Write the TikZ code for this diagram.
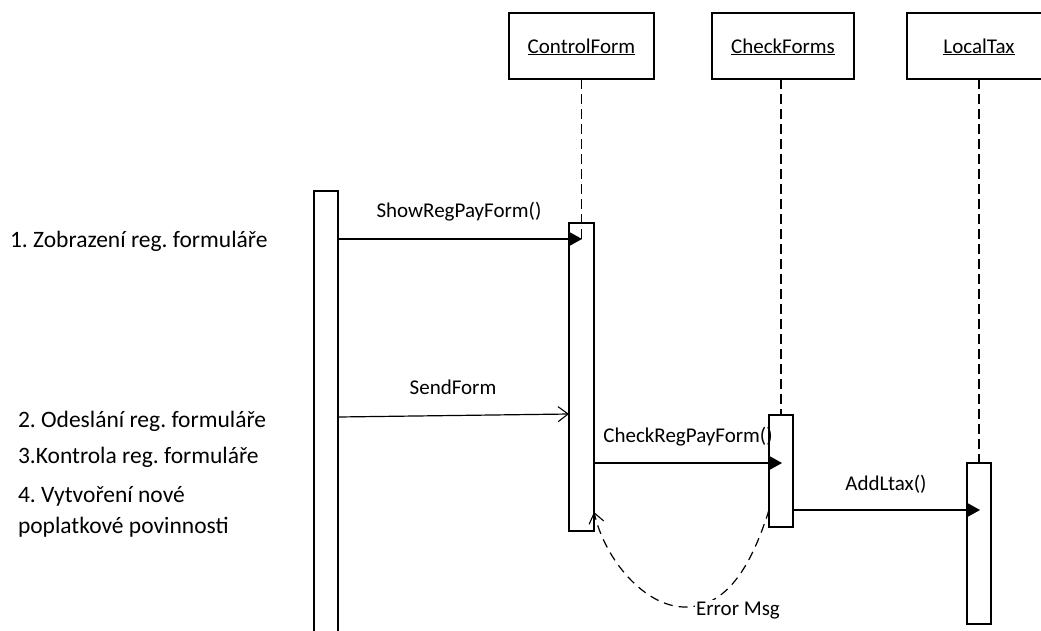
\documentclass[tikz,border=0pt]{standalone}
\usepackage{fontspec}
\setmainfont{Carlito}
\usetikzlibrary{arrows.meta}
\frenchspacing
\begin{document}
\begin{tikzpicture}[x=1pt,y=-1pt,
  line width=1.2pt,
  every node/.style={inner sep=0pt,outer sep=0pt},
  objbox/.style={draw,minimum height=66pt,font=\fontsize{21}{25}\selectfont},
  bar/.style={draw,minimum width=24pt},
  lifeline/.style={dash pattern=on 10pt off 5pt},
  msglbl/.style={anchor=base,font=\fontsize{21}{25}\selectfont},
  steplbl/.style={anchor=base west,align=left,font=\fontsize{23.5}{31}\selectfont},
  sync/.style={-{Triangle[length=12pt,width=13pt]}},
  async/.style={-{Straight Barb[length=10pt,width=15pt,line width=1.1pt]}},
  reply/.style={dash pattern=on 9pt off 6pt,-{Straight Barb[length=10pt,width=15pt,line width=1.1pt]}}]
\useasboundingbox (0,0) rectangle (1041,630);

% object heads
\node[objbox,minimum width=145pt] (cf) at (581.5,46) {};
\node[objbox,minimum width=142pt] (ck) at (783,46) {};
\node[objbox,minimum width=144pt] (lt) at (979,46) {};
\node[msglbl] (cft) at (581.5,53) {\underline{ControlForm}};
\node[msglbl] (ckt) at (783,53) {\underline{CheckForms}};
\node[msglbl] (ltt) at (979,53) {\underline{LocalTax}};

% activation bars
\node[bar,minimum height=449pt] (user) at (326,415.5) {};
\node[bar,minimum width=25pt,minimum height=308pt] (acf) at (581.5,377) {};
\node[bar,minimum height=112pt] (ack) at (781,471) {};
\node[bar,minimum height=161pt] (alt) at (979,543.5) {};

% lifelines
\coordinate (cfend) at (581.5,240);
\draw[lifeline] (cf.south) -- (cfend);
\draw[lifeline] (ck.south -| ack.north) -- (ack.north);
\draw[lifeline] (lt.south) -- (alt.north);

% messages
\coordinate (m1) at (582,239);
\draw[sync] (user.east |- m1) -- (m1);
\node[msglbl] (l1) at (459,217) {ShowRegPayForm()};

\coordinate (m2s) at (user.east |- 0,417);
\coordinate (m2e) at (acf.west |- 0,414);
\draw[async] (m2s) -- (m2e);
\node[msglbl] (l2) at (453,394) {SendForm};

\coordinate (m3) at (782,463);
\draw[sync] (acf.east |- m3) -- (m3);
\node[msglbl] (l3) at (688,442) {CheckRegPayForm()};

\coordinate (m4) at (980,510);
\draw[sync] (ack.east |- m4) -- (m4);
\node[msglbl] (l4) at (886,490) {AddLtax()};

% error reply
\coordinate (r1) at (ack.west |- 0,510);
\coordinate (r2) at (acf.east |- 0,512);
\draw[reply] (r1) .. controls (750,570) and (725,607) .. (685,607)
                  .. controls (645,607) and (605,560) .. (r2);
\node[msglbl,fill=white,inner xsep=1pt,inner ysep=2pt] (l5) at (738,615) {Error Msg};

% step descriptions
\node[steplbl] (s1) at (10,247) {1. Zobrazení reg. formuláře};
\node[steplbl] (s2) at (18,427) {2. Odeslání reg. formuláře};
\node[steplbl] (s3) at (18,463) {3.Kontrola reg. formuláře};
\node[steplbl] (s4) at (18,533) {4. Vytvoření nové\\poplatkové povinnosti};
\end{tikzpicture}
\end{document}
